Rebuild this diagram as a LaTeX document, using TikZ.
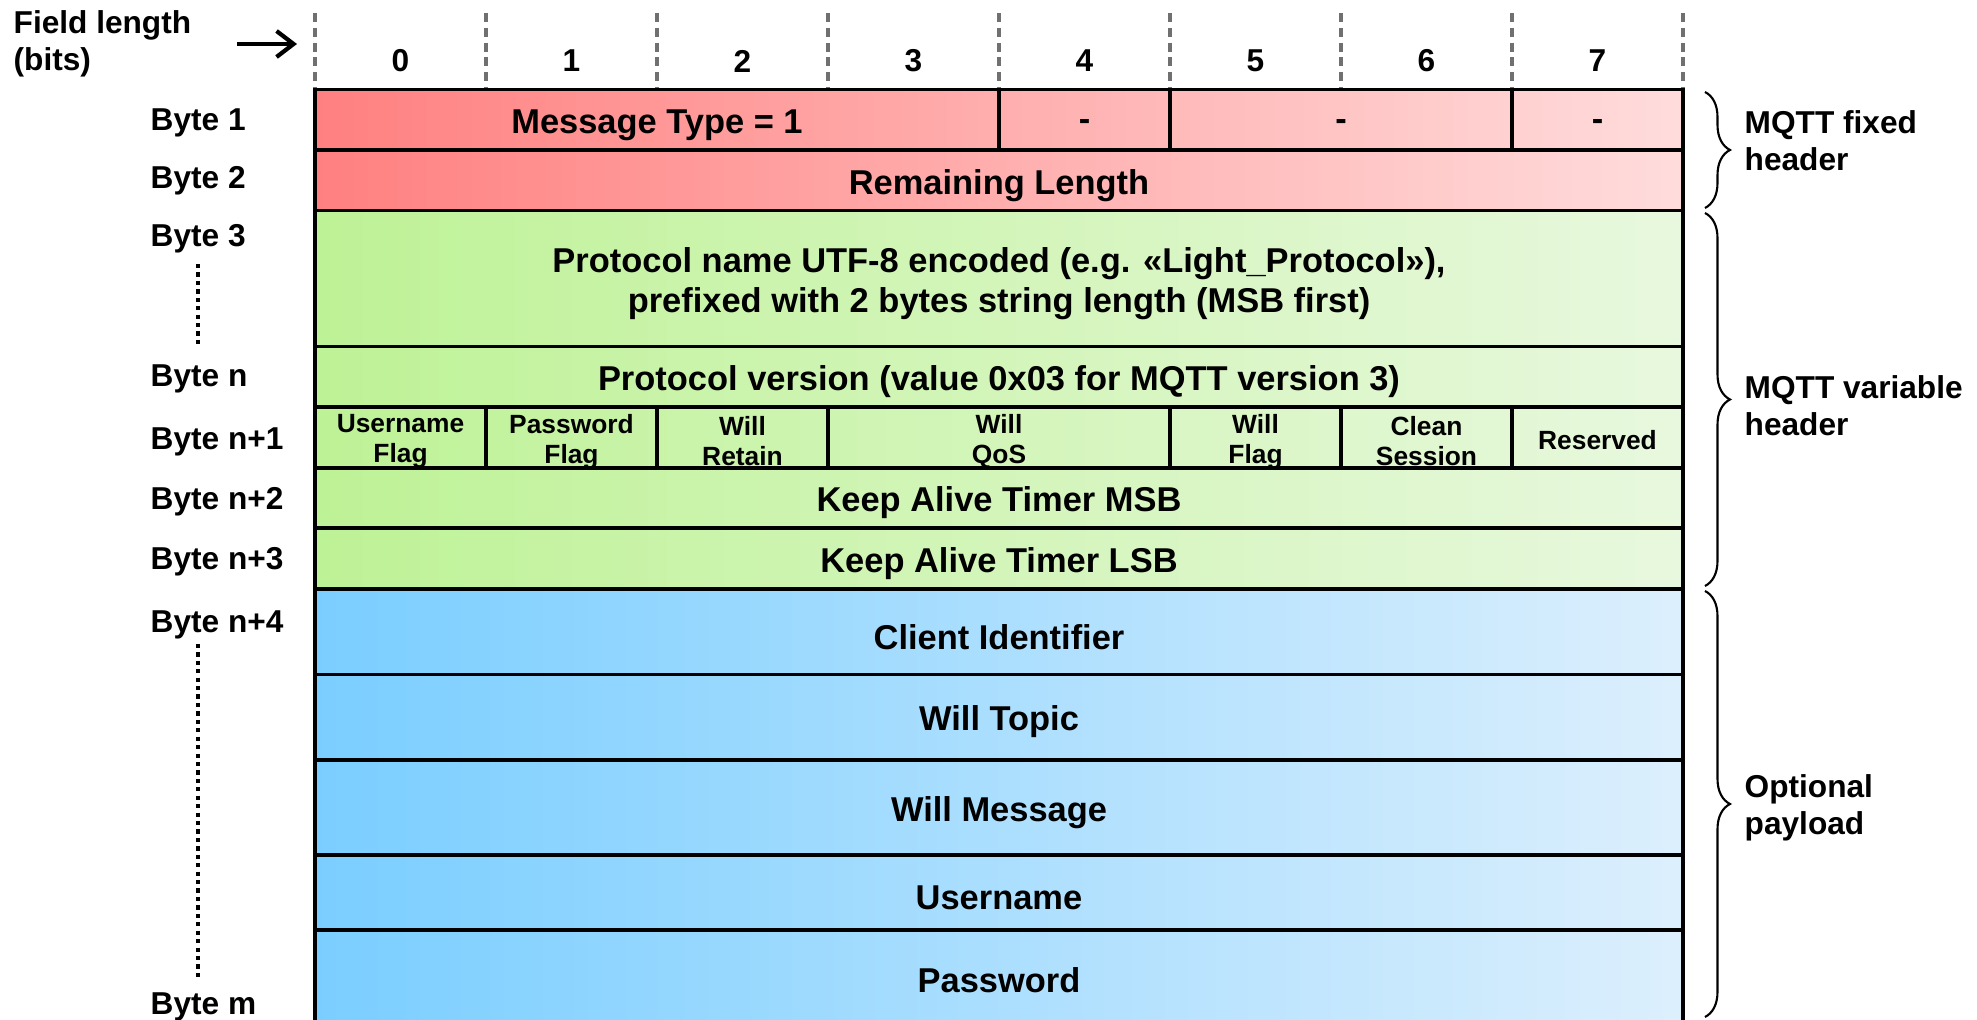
\documentclass[tikz,border=0pt]{standalone}
\usepackage{fontspec}
\setmainfont{Liberation Sans}
\usetikzlibrary{decorations.pathreplacing,arrows.meta}

\definecolor{fixleft}{RGB}{255,128,128}
\definecolor{fixright}{RGB}{255,220,220}
\definecolor{varleft}{RGB}{190,242,150}
\definecolor{varright}{RGB}{232,248,222}
\definecolor{payleft}{RGB}{122,206,255}
\definecolor{payright}{RGB}{220,239,253}
\definecolor{tickgray}{RGB}{112,112,112}

\begin{document}
\begin{tikzpicture}[
    cell/.style={font=\fontsize{9.8}{11.6}\selectfont\bfseries, align=center, yshift=-0.5mm},
    flag/.style={font=\fontsize{7.5}{8.5}\selectfont\bfseries, align=center, yshift=-0.3mm},
    lbl/.style={font=\fontsize{9}{10.6}\selectfont\bfseries, anchor=west, align=left, inner sep=0pt},
    bitnum/.style={font=\fontsize{9}{10.6}\selectfont\bfseries},
    fixrow/.style={draw, line width=1pt, left color=fixleft, right color=fixright},
    varrow/.style={draw, line width=1pt, left color=varleft, right color=varright},
    payrow/.style={draw, line width=1pt, left color=payleft, right color=payright},
    tick/.style={draw=tickgray, line width=1pt, dash pattern=on 2.6pt off 1.6pt},
    dots/.style={line width=1.2pt, dash pattern=on 1.2pt off 1.2pt},
    brace/.style={decorate, decoration={brace, amplitude=2.5mm}, line width=0.6pt}
  ]
  \useasboundingbox (0,0) rectangle (19.77,-10.20);

  % bit ruler
  \node[lbl] (fl) at (0.13,-0.44) {Field length\\(bits)};
  \coordinate (arrtail) at (2.37,-0.44);
  \coordinate (arrtip) at (2.97,-0.44);
  \draw[-{Straight Barb[length=1.7mm, width=2.6mm]}, line width=1.2pt] (arrtail) -- (arrtip);
  \foreach \i in {0,...,8}
    \draw[tick] ({3.15+1.71*\i},-0.13) -- ({3.15+1.71*\i},-0.895);
  \foreach \i in {0,...,7}
    \node[bitnum] (bit\i) at ({4.005+1.71*\i},-0.61) {\i};

  % rows
  \foreach \ya/\yb in {0.895/1.50, 1.50/2.105}
    \draw[fixrow] (3.15,-\ya) rectangle (16.83,-\yb);
  \foreach \ya/\yb in {2.105/3.467, 3.467/4.07, 4.07/4.68, 4.68/5.28, 5.28/5.89}
    \draw[varrow] (3.15,-\ya) rectangle (16.83,-\yb);
  \foreach \ya/\yb in {5.89/6.745, 6.745/7.60, 7.60/8.55, 8.55/9.30, 9.30/10.30}
    \draw[payrow] (3.15,-\ya) rectangle (16.83,-\yb);

  % field borders
  \foreach \x in {9.99, 11.70, 15.12}
    \draw[line width=1pt] (\x,-0.895) -- (\x,-1.50);
  \foreach \x in {4.86, 6.57, 8.28, 11.70, 13.41, 15.12}
    \draw[line width=1pt] (\x,-4.07) -- (\x,-4.68);

  % field names
  \node[cell] (mtype) at (6.57,-1.20) {Message Type = 1};
  \node[cell] (bit4) at (10.845,-1.20) {-};
  \node[cell] (bit56) at (13.41,-1.20) {-};
  \node[cell] (bit7) at (15.975,-1.20) {-};
  \node[cell] (remlen) at (9.99,-1.805) {Remaining Length};
  \node[cell] (pname) at (9.99,-2.786) {Protocol name UTF-8 encoded (e.g. «Light\_Protocol»),\\prefixed with 2 bytes string length (MSB first)};
  \node[cell] (pver) at (9.99,-3.77) {Protocol version (value 0x03 for MQTT version 3)};
  \node[flag] (userflag) at (4.005,-4.385) {Username\\Flag};
  \node[flag] (passflag) at (5.715,-4.385) {Password\\Flag};
  \node[flag] (wretain) at (7.425,-4.385) {Will\\Retain};
  \node[flag] (wqos) at (9.99,-4.385) {Will\\QoS};
  \node[flag] (wflag) at (12.555,-4.385) {Will\\Flag};
  \node[flag] (csession) at (14.265,-4.385) {Clean\\Session};
  \node[flag] (reserved) at (15.975,-4.375) {Reserved};
  \node[cell] (kamsb) at (9.99,-4.98) {Keep Alive Timer MSB};
  \node[cell] (kalsb) at (9.99,-5.585) {Keep Alive Timer LSB};
  \node[cell] (clientid) at (9.99,-6.317) {Client Identifier};
  \node[cell] (wtopic) at (9.99,-7.17) {Will Topic};
  \node[cell] (wmsg) at (9.99,-8.075) {Will Message};
  \node[cell] (uname) at (9.99,-8.925) {Username};
  \node[cell] (pword) at (9.99,-9.75) {Password};

  % byte labels
  \node[lbl] (b1) at (1.50,-1.23) {Byte 1};
  \node[lbl] (b2) at (1.50,-1.81) {Byte 2};
  \node[lbl] (b3) at (1.50,-2.39) {Byte 3};
  \node[lbl] (bn) at (1.50,-3.79) {Byte n};
  \node[lbl] (bn1) at (1.50,-4.42) {Byte n+1};
  \node[lbl] (bn2) at (1.50,-5.02) {Byte n+2};
  \node[lbl] (bn3) at (1.50,-5.62) {Byte n+3};
  \node[lbl] (bn4) at (1.50,-6.25) {Byte n+4};
  \node[lbl] (bm) at (1.50,-10.07) {Byte m};
  \draw[dots, shorten <=1mm, shorten >=1.6mm] (b3.south) -- (b3.south |- bn.north);
  \draw[dots, shorten <=0.4mm, shorten >=1.2mm] (b3 |- bn4.south) -- (b3 |- bm.north);

  % header parts
  \draw[brace] (17.05,-0.92) -- (17.05,-2.08);
  \draw[brace] (17.05,-2.13) -- (17.05,-5.86);
  \draw[brace] (17.05,-5.91) -- (17.05,-10.17);
  \node[lbl] (fixhdr) at (17.44,-1.41) {MQTT fixed\\header};
  \node[lbl] (varhdr) at (17.44,-4.055) {MQTT variable\\header};
  \node[lbl] (payload) at (17.44,-8.08) {Optional\\payload};
\end{tikzpicture}
\end{document}
